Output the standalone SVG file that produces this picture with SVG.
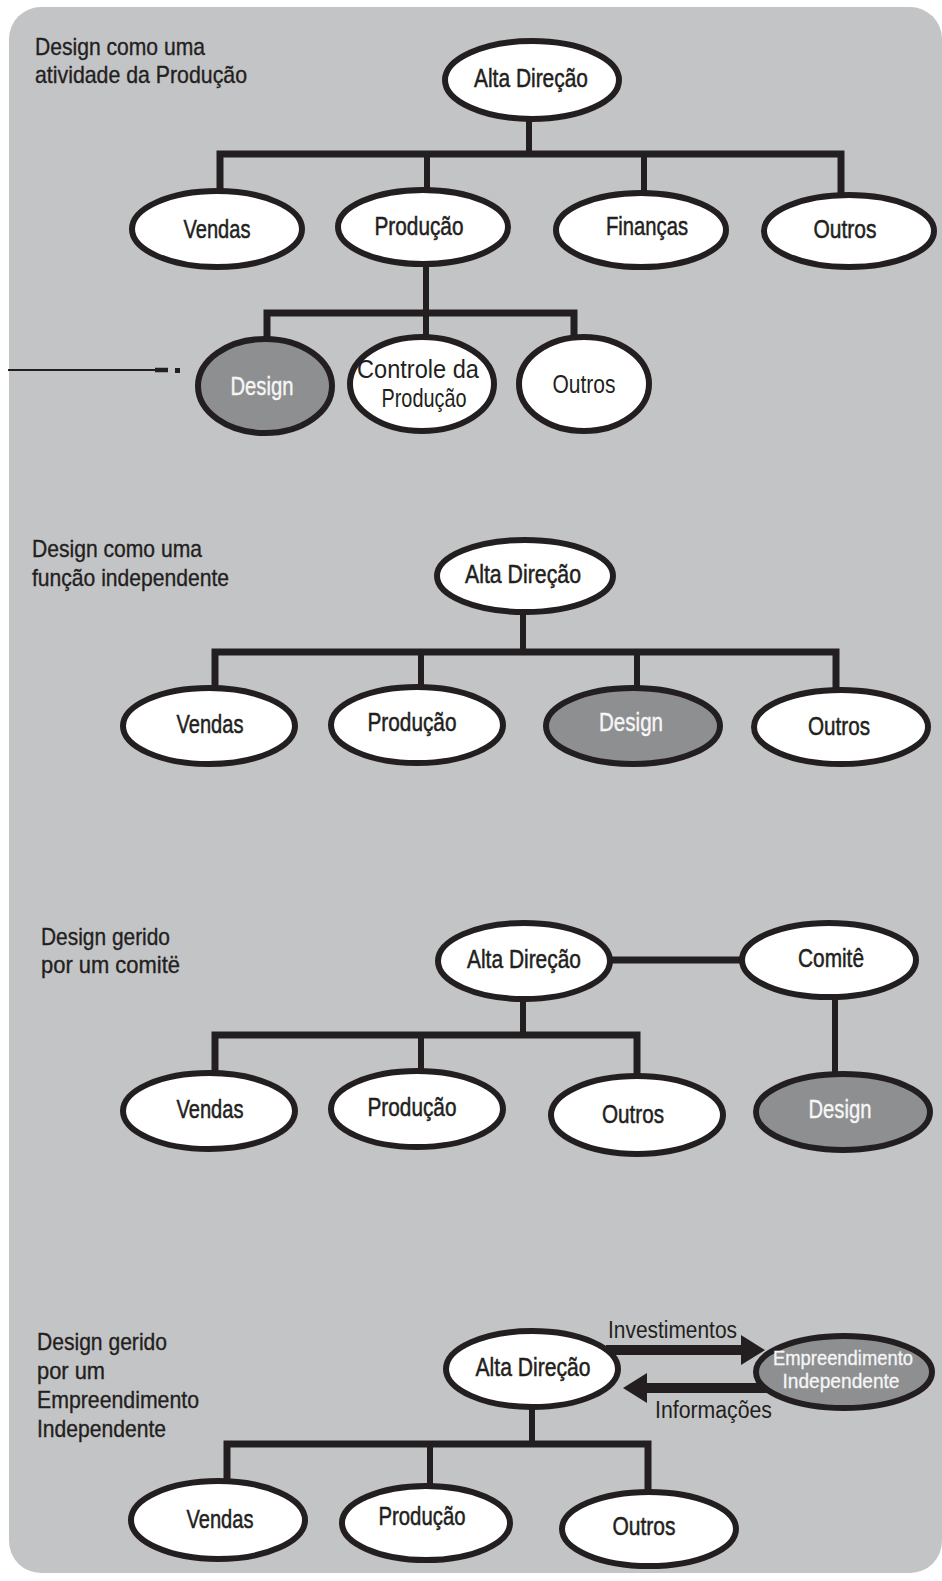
<svg xmlns="http://www.w3.org/2000/svg" width="942" height="1581" viewBox="0 0 942 1581">
<defs>
<style>
.bg{fill:#c3c4c6}
.n{fill:#ffffff;stroke:#231f20;stroke-width:6}
.d{fill:#8e8f91;stroke:#231f20;stroke-width:6}
.t{font-family:"Liberation Sans",Arial,sans-serif;font-size:26px;fill:#231f20;stroke:#231f20;stroke-width:0.5;text-anchor:middle}
.tw{font-family:"Liberation Sans",Arial,sans-serif;font-size:26px;fill:#f6f6f6;stroke:#f6f6f6;stroke-width:0.4;text-anchor:middle}
.tl{font-family:"Liberation Sans",Arial,sans-serif;font-size:26px;fill:#231f20;text-anchor:middle}
.ts{font-family:"Liberation Sans",Arial,sans-serif;font-size:21px;fill:#f6f6f6;stroke:#f6f6f6;stroke-width:0.3;text-anchor:middle}
.ti{font-family:"Liberation Sans",Arial,sans-serif;font-size:24px;fill:#231f20;stroke:#231f20;stroke-width:0.35}
.c{fill:none;stroke:#231f20;stroke-width:7;stroke-linejoin:miter}
.cv{fill:none;stroke:#231f20;stroke-width:6}
.a{fill:none;stroke:#231f20;stroke-width:10}
.al{font-family:"Liberation Sans",Arial,sans-serif;font-size:23px;fill:#231f20}
</style>
<marker id="ah" viewBox="0 0 24 30" markerWidth="24" markerHeight="30" refX="1" refY="15" markerUnits="userSpaceOnUse" orient="auto">
<path d="M0,0 L24,15 L0,30 Z" fill="#231f20"/>
</marker>
</defs>
<rect class="bg" x="9" y="7" width="933" height="1566" rx="32" ry="32"/>

<g id="titles">
<text class="ti" x="35" y="55" textLength="170" lengthAdjust="spacingAndGlyphs">Design como uma</text>
<text class="ti" x="35" y="83" textLength="212" lengthAdjust="spacingAndGlyphs">atividade da Produção</text>
<text class="ti" x="32" y="557" textLength="170" lengthAdjust="spacingAndGlyphs">Design como uma</text>
<text class="ti" x="32" y="586" textLength="197" lengthAdjust="spacingAndGlyphs">função independente</text>
<text class="ti" x="41" y="945" textLength="129" lengthAdjust="spacingAndGlyphs">Design gerido</text>
<text class="ti" x="41" y="973" textLength="139" lengthAdjust="spacingAndGlyphs">por um comitë</text>
<text class="ti" x="37" y="1350" textLength="130" lengthAdjust="spacingAndGlyphs">Design gerido</text>
<text class="ti" x="37" y="1379" textLength="68" lengthAdjust="spacingAndGlyphs">por um</text>
<text class="ti" x="37" y="1408" textLength="162" lengthAdjust="spacingAndGlyphs">Empreendimento</text>
<text class="ti" x="37" y="1437" textLength="129" lengthAdjust="spacingAndGlyphs">Independente</text>
</g>

<g id="stray-mark" fill="#231f20" stroke="#231f20">
<line x1="8" y1="370" x2="157" y2="370" stroke-width="2"/>
<line x1="155" y1="370" x2="168" y2="370" stroke-width="4.5"/>
<rect x="175" y="368" width="5" height="5" stroke="none"/>
</g>

<g id="connectors">
<!-- section 1 -->
<line class="cv" x1="529" y1="118" x2="529" y2="154"/>
<path class="c" d="M220,192 V154 H841 V194"/>
<line class="cv" x1="427" y1="154" x2="427" y2="191"/>
<line class="cv" x1="644" y1="154" x2="644" y2="194"/>
<line class="cv" x1="426" y1="262" x2="426" y2="340"/>
<path class="c" d="M267,342 V313 H574 V338"/>
<!-- section 2 -->
<line class="cv" x1="523" y1="610" x2="523" y2="652"/>
<path class="c" d="M215,690 V652 H836 V692"/>
<line class="cv" x1="421" y1="652" x2="421" y2="690"/>
<line class="cv" x1="637" y1="652" x2="637" y2="690"/>
<!-- section 3 -->
<line class="c" x1="605" y1="960" x2="748" y2="960"/>
<line class="cv" x1="835" y1="995" x2="835" y2="1078"/>
<line class="cv" x1="523" y1="996" x2="523" y2="1035"/>
<path class="c" d="M215,1075 V1035 H637 V1078"/>
<line class="cv" x1="421" y1="1035" x2="421" y2="1074"/>
<!-- section 4 -->
<line class="cv" x1="532" y1="1404" x2="532" y2="1444"/>
<path class="c" d="M227,1484 V1444 H648 V1494"/>
<line class="cv" x1="430" y1="1444" x2="430" y2="1488"/>
<line class="a" x1="606" y1="1350" x2="742" y2="1350" marker-end="url(#ah)"/>
<line class="a" x1="770" y1="1388" x2="646" y2="1388" marker-end="url(#ah)"/>
<text class="al" x="608" y="1338" textLength="129" lengthAdjust="spacingAndGlyphs">Investimentos</text>
<text class="al" x="655" y="1418" textLength="117" lengthAdjust="spacingAndGlyphs">Informações</text>
</g>

<!-- Section 1 nodes -->
<g id="s1-alta"><ellipse class="n" cx="532" cy="80" rx="87" ry="39"/><text class="t" x="531" y="87" textLength="114" lengthAdjust="spacingAndGlyphs">Alta Direção</text></g>
<g id="s1-vendas"><ellipse class="n" cx="217" cy="229" rx="85" ry="38"/><text class="t" x="217" y="238" textLength="67" lengthAdjust="spacingAndGlyphs">Vendas</text></g>
<g id="s1-producao"><ellipse class="n" cx="423" cy="227" rx="85" ry="37"/><text class="t" x="419" y="235" textLength="89" lengthAdjust="spacingAndGlyphs">Produção</text></g>
<g id="s1-financas"><ellipse class="n" cx="641" cy="230" rx="85" ry="37"/><text class="t" x="647" y="235" textLength="82" lengthAdjust="spacingAndGlyphs">Finanças</text></g>
<g id="s1-outros"><ellipse class="n" cx="849" cy="231" rx="85" ry="36"/><text class="t" x="845" y="238" textLength="63" lengthAdjust="spacingAndGlyphs">Outros</text></g>
<g id="s1-design"><ellipse class="d" cx="265" cy="386" rx="67" ry="47"/><text class="tw" x="262" y="395" textLength="63" lengthAdjust="spacingAndGlyphs">Design</text></g>
<g id="s1-controle"><ellipse class="n" cx="422" cy="384" rx="72" ry="47"/><text class="tl" x="418" y="378" textLength="122" lengthAdjust="spacingAndGlyphs">Controle da</text><text class="tl" x="424" y="407" textLength="85" lengthAdjust="spacingAndGlyphs">Produção</text></g>
<g id="s1-outros2"><ellipse class="n" cx="584" cy="384" rx="65" ry="47"/><text class="tl" x="584" y="393" textLength="63" lengthAdjust="spacingAndGlyphs">Outros</text></g>

<!-- Section 2 nodes -->
<g id="s2-alta"><ellipse class="n" cx="525" cy="576" rx="88" ry="36"/><text class="t" x="523" y="583" textLength="116" lengthAdjust="spacingAndGlyphs">Alta Direção</text></g>
<g id="s2-vendas"><ellipse class="n" cx="209" cy="726" rx="86" ry="38"/><text class="t" x="210" y="733" textLength="67" lengthAdjust="spacingAndGlyphs">Vendas</text></g>
<g id="s2-producao"><ellipse class="n" cx="417" cy="725" rx="86" ry="38"/><text class="t" x="412" y="731" textLength="89" lengthAdjust="spacingAndGlyphs">Produção</text></g>
<g id="s2-design"><ellipse class="d" cx="633" cy="726" rx="87" ry="38"/><text class="tw" x="631" y="731" textLength="64" lengthAdjust="spacingAndGlyphs">Design</text></g>
<g id="s2-outros"><ellipse class="n" cx="841" cy="727" rx="87" ry="37"/><text class="t" x="839" y="735" textLength="62" lengthAdjust="spacingAndGlyphs">Outros</text></g>

<!-- Section 3 nodes -->
<g id="s3-alta"><ellipse class="n" cx="524" cy="961" rx="86" ry="38"/><text class="t" x="524" y="968" textLength="114" lengthAdjust="spacingAndGlyphs">Alta Direção</text></g>
<g id="s3-comite"><ellipse class="n" cx="829" cy="960" rx="87" ry="37"/><text class="t" x="831" y="967" textLength="66" lengthAdjust="spacingAndGlyphs">Comitê</text></g>
<g id="s3-vendas"><ellipse class="n" cx="209" cy="1111" rx="86" ry="38"/><text class="t" x="210" y="1118" textLength="67" lengthAdjust="spacingAndGlyphs">Vendas</text></g>
<g id="s3-producao"><ellipse class="n" cx="417" cy="1109" rx="86" ry="38"/><text class="t" x="412" y="1116" textLength="89" lengthAdjust="spacingAndGlyphs">Produção</text></g>
<g id="s3-outros"><ellipse class="n" cx="637" cy="1115" rx="86" ry="39"/><text class="t" x="633" y="1123" textLength="62" lengthAdjust="spacingAndGlyphs">Outros</text></g>
<g id="s3-design"><ellipse class="d" cx="843" cy="1112" rx="87" ry="38"/><text class="tw" x="840" y="1118" textLength="63" lengthAdjust="spacingAndGlyphs">Design</text></g>

<!-- Section 4 nodes -->
<g id="s4-alta"><ellipse class="n" cx="532" cy="1369" rx="86" ry="38"/><text class="t" x="533" y="1376" textLength="115" lengthAdjust="spacingAndGlyphs">Alta Direção</text></g>
<g id="s4-empreendimento"><ellipse class="d" cx="844" cy="1372" rx="88" ry="36"/><text class="ts" x="843" y="1365" textLength="140" lengthAdjust="spacingAndGlyphs">Empreendimento</text><text class="ts" x="841" y="1388" textLength="117" lengthAdjust="spacingAndGlyphs">Independente</text></g>
<g id="s4-vendas"><ellipse class="n" cx="218" cy="1520" rx="87" ry="39"/><text class="t" x="220" y="1528" textLength="67" lengthAdjust="spacingAndGlyphs">Vendas</text></g>
<g id="s4-producao"><ellipse class="n" cx="426" cy="1523" rx="84" ry="37"/><text class="t" x="422" y="1525" textLength="87" lengthAdjust="spacingAndGlyphs">Produção</text></g>
<g id="s4-outros"><ellipse class="n" cx="649" cy="1529" rx="87" ry="37"/><text class="t" x="644" y="1535" textLength="63" lengthAdjust="spacingAndGlyphs">Outros</text></g>
</svg>
